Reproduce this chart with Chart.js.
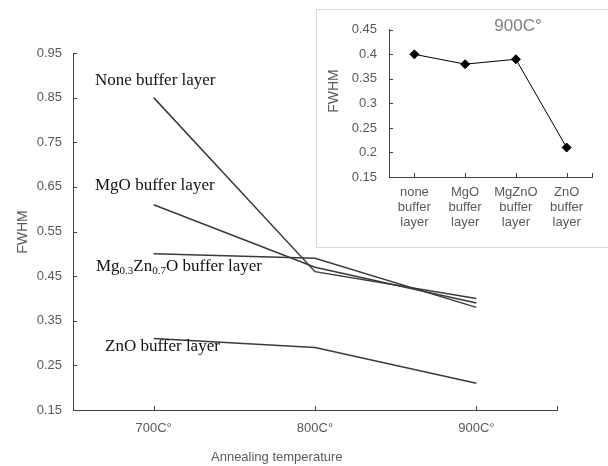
<!DOCTYPE html>
<html>
<head>
<meta charset="utf-8">
<script src="https://cdn.jsdelivr.net/npm/chart.js@4"></script>
<style>
  body { margin: 0; background: #fff; }
  #wrap { position: relative; width: 608px; height: 466px; }
  #inset {
    position: absolute; left: 316px; top: 9px; width: 292px; height: 239px;
    box-sizing: border-box; background: #fff;
    border: 1px solid #d9d9d9; border-right: none;
  }
</style>
</head>
<body>
<div id="wrap">
  <canvas id="mainChart" width="608" height="466"></canvas>
  <div id="inset"><canvas id="insetChart" width="291" height="237"></canvas></div>
</div>
<script>
// datos
const temperaturas = ["700C°", "800C°", "900C°"];
const sinBuffer = [0.85, 0.46, 0.40];
const bufferMgO = [0.61, 0.47, 0.39];
const bufferMgZnO = [0.50, 0.49, 0.38];
const bufferZnO = [0.31, 0.29, 0.21];

const capas = [["none", "buffer", "layer"], ["MgO", "buffer", "layer"], ["MgZnO", "buffer", "layer"], ["ZnO", "buffer", "layer"]];
const fwhm900 = [0.40, 0.38, 0.39, 0.21];

const gris = "#595959";
const sans = "'Liberation Sans', Arial, sans-serif";
const serif = "'Liberation Serif', 'Times New Roman', serif";

// marcas cortas hacia dentro del eje
function marcasInternas(chart, largo) {
  const { ctx, chartArea } = chart;
  const x = chart.scales.x, y = chart.scales.y;
  ctx.save();
  ctx.strokeStyle = "#404040";
  ctx.lineWidth = 1;
  ctx.beginPath();
  y.ticks.forEach((t, i) => {
    const py = Math.round(y.getPixelForTick(i)) + 0.5;
    ctx.moveTo(chartArea.left, py);
    ctx.lineTo(chartArea.left + largo, py);
  });
  x.ticks.forEach((t, i) => {
    const px = Math.round(x.getPixelForTick(i)) + 0.5;
    ctx.moveTo(px, chartArea.bottom);
    ctx.lineTo(px, chartArea.bottom - largo);
  });
  const pr = Math.round(chartArea.right) + 0.5;
  ctx.moveTo(pr, chartArea.bottom);
  ctx.lineTo(pr, chartArea.bottom - largo);
  ctx.stroke();
  ctx.restore();
}

function textoVertical(ctx, texto, x, y, font) {
  ctx.save();
  ctx.translate(x, y);
  ctx.rotate(-Math.PI / 2);
  ctx.font = font;
  ctx.fillStyle = gris;
  ctx.textAlign = "center";
  ctx.textBaseline = "middle";
  ctx.fillText(texto, 0, 0);
  ctx.restore();
}

const etiquetasPrincipal = {
  id: "etiquetasPrincipal",
  afterDraw(chart) {
    const ctx = chart.ctx;
    marcasInternas(chart, 4);
    textoVertical(ctx, "FWHM", 23, 232, "14px " + sans);

    ctx.save();
    ctx.font = "13px " + sans;
    ctx.fillStyle = gris;
    ctx.textBaseline = "middle";
    ctx.fillText("Annealing temperature", 211, 457);

    ctx.fillStyle = "#111";
    ctx.textBaseline = "alphabetic";
    ctx.font = "17px " + serif;
    ctx.fillText("None buffer layer", 95, 85);
    ctx.fillText("MgO buffer layer", 95, 190);
    ctx.fillText("ZnO buffer layer", 105, 351);

    // Mg0.3Zn0.7O con subindices
    let px = 96;
    const base = 271;
    const partes = [["Mg", false], ["0.3", true], ["Zn", false], ["0.7", true], ["O buffer layer", false]];
    partes.forEach(([t, sub]) => {
      ctx.font = (sub ? "11px " : "17px ") + serif;
      ctx.fillText(t, px, sub ? base + 3 : base);
      px += ctx.measureText(t).width;
    });
    ctx.restore();
  }
};

const etiquetasInset = {
  id: "etiquetasInset",
  afterDraw(chart) {
    const ctx = chart.ctx;
    marcasInternas(chart, 4);
    textoVertical(ctx, "FWHM", 17, 81, "14px " + sans);
    ctx.save();
    ctx.font = "17px " + sans;
    ctx.fillStyle = "#808080";
    ctx.textAlign = "center";
    ctx.textBaseline = "middle";
    ctx.fillText("900C°", 201, 16);
    ctx.restore();
  }
};

function serie(datos) {
  return {
    data: datos,
    borderColor: "#3a3a3a",
    borderWidth: 1.5,
    pointRadius: 0,
    fill: false,
    tension: 0
  };
}

new Chart(document.getElementById("mainChart").getContext("2d"), {
  type: "line",
  data: {
    labels: temperaturas,
    datasets: [serie(sinBuffer), serie(bufferMgO), serie(bufferMgZnO), serie(bufferZnO)]
  },
  options: {
    responsive: false,
    animation: false,
    layout: { padding: { left: 0, top: 53, right: 51, bottom: 0 } },
    plugins: { legend: { display: false }, tooltip: { enabled: false } },
    scales: {
      x: {
        offset: true,
        grid: { display: false, drawTicks: false },
        border: { display: true, color: "#404040", width: 1 },
        ticks: { color: gris, font: { family: sans, size: 13 }, padding: 11, maxRotation: 0, autoSkip: false },
        afterFit(scale) { scale.height = 56; }
      },
      y: {
        min: 0.15,
        max: 0.95,
        grid: { display: false, drawTicks: false },
        border: { display: true, color: "#404040", width: 1 },
        ticks: {
          stepSize: 0.1,
          color: gris,
          font: { family: sans, size: 13 },
          padding: 11,
          callback: v => v.toFixed(2)
        },
        afterFit(scale) { scale.width = 73; }
      }
    }
  },
  plugins: [etiquetasPrincipal]
});

new Chart(document.getElementById("insetChart").getContext("2d"), {
  type: "line",
  data: {
    labels: capas,
    datasets: [{
      data: fwhm900,
      borderColor: "#000",
      borderWidth: 1,
      pointStyle: "rectRot",
      pointRadius: 4.5,
      pointBackgroundColor: "#000",
      pointBorderColor: "#000",
      fill: false,
      tension: 0
    }]
  },
  options: {
    responsive: false,
    animation: false,
    layout: { padding: { left: 0, top: 13, right: 16, bottom: 0 } },
    plugins: { legend: { display: false }, tooltip: { enabled: false } },
    scales: {
      x: {
        offset: true,
        grid: { display: false, drawTicks: false },
        border: { display: true, color: "#404040", width: 1 },
        ticks: {
          color: gris,
          font: { family: sans, size: 13, lineHeight: 1.15 },
          padding: 8,
          maxRotation: 0,
          autoSkip: false
        },
        afterFit(scale) { scale.height = 70; }
      },
      y: {
        min: 0.15,
        max: 0.45,
        grid: { display: false, drawTicks: false },
        border: { display: true, color: "#404040", width: 1 },
        ticks: {
          stepSize: 0.05,
          color: gris,
          font: { family: sans, size: 13 },
          padding: 12,
          callback: v => String(+v.toFixed(2))
        },
        afterFit(scale) { scale.width = 72; }
      }
    }
  },
  plugins: [etiquetasInset]
});
</script>
</body>
</html>
